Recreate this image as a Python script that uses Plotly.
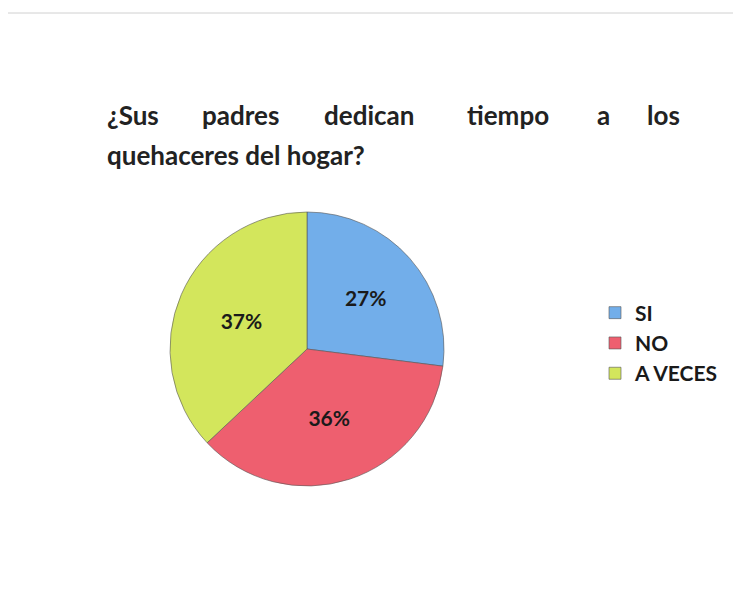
import plotly.graph_objects as go

categories = ["SI", "NO", "A VECES"]
values = [27, 36, 37]
colors = ["#72AEEA", "#EE5F6F", "#D3E65C"]

title_line1 = ["¿Sus", "padres", "dedican", "tiempo", "a", "los"]
title_line1_x = [105, 200, 322, 465, 595, 645]
title_line2 = "quehaceres del hogar?"

# page has an 8px body margin; work in page pixels and convert
OFF = 8
W, H = 741 - OFF, 595 - OFF


def px_x(p):
    return (p - OFF) / W


def px_y(p):
    return 1 - (p - OFF) / H


fig = go.Figure()
fig.add_trace(go.Pie(
    labels=categories,
    values=values,
    sort=False,
    direction="clockwise",
    rotation=0,
    marker=dict(colors=colors, line=dict(color="#555555", width=0.6)),
    textinfo="percent",
    textposition="inside",
    insidetextorientation="horizontal",
    texttemplate="<b>%{percent:.0%}</b>",
    textfont=dict(family="Lato", size=21, color="#1a1a1a"),
    domain=dict(x=[px_x(170), px_x(444)], y=[px_y(486), px_y(212)]),
    hoverinfo="label+percent",
))

annotations = []
for word, p in zip(title_line1, title_line1_x):
    annotations.append(dict(
        text="<b>" + word + "</b>", x=px_x(p), y=px_y(115), xref="paper", yref="paper",
        xanchor="left", yanchor="middle", showarrow=False,
        font=dict(family="Lato", size=26, color="#222222"),
    ))
annotations.append(dict(
    text="<b>" + title_line2 + "</b>", x=px_x(105), y=px_y(155), xref="paper", yref="paper",
    xanchor="left", yanchor="middle", showarrow=False,
    font=dict(family="Lato", size=26, color="#222222"),
))

fig.update_layout(
    width=W, height=H,
    margin=dict(l=0, r=0, t=0, b=0),
    paper_bgcolor="white",
    plot_bgcolor="white",
    annotations=annotations,
    showlegend=True,
    legend=dict(
        x=px_x(595), y=px_y(343), xanchor="left", yanchor="middle",
        font=dict(family="Lato", size=21, color="#1a1a1a", weight="bold"),
        itemwidth=30,
    ),
    shapes=[
        dict(type="line", xref="paper", yref="paper", x0=0, x1=1, y0=px_y(13), y1=px_y(13),
             line=dict(color="#d0d0d0", width=1)),
    ],
)

fig.write_html("out.html")
